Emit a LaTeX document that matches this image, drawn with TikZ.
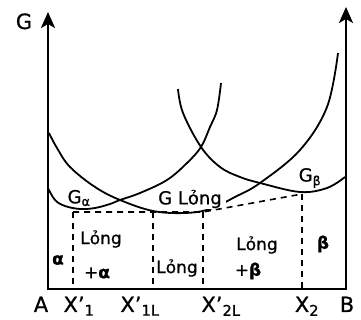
\documentclass[tikz,border=0pt]{standalone}
\usepackage{fontspec}
\setmainfont{DejaVu Sans}[FakeBold=0.8]
\usetikzlibrary{arrows.meta}

\begin{document}
\begin{tikzpicture}[x=1pt,y=1pt,
  axis/.style={line width=2.4pt},
  curve/.style={line width=1.8pt},
  tangent/.style={line width=1.6pt,dash pattern=on 6pt off 5pt},
  lbl/.style={font=\fontsize{17}{17}\selectfont,inner sep=1pt},
  glbl/.style={font=\fontsize{18}{18}\selectfont,inner sep=1pt},
  tick/.style={font=\fontsize{21}{21}\selectfont,inner sep=0pt,anchor=base}]
  \useasboundingbox (-48,-31) rectangle (313,289);
  % axes
  \draw[axis,{Stealth[length=16pt,width=14pt,inset=4pt]}-{Stealth[length=16pt,width=14pt,inset=4pt]}]
    (0,277) -- (0,0) -- (298,0) -- (298,282);
  \node[tick] (G) at (-24,260) {G};
  % free energy curves
  \draw[curve] plot[smooth,tension=0.6] coordinates {(0,101) (7,89) (17,83) (32,80)
    (47,81) (62,85) (72,89) (92,96) (119,109) (139,126) (153,142) (162,162)
    (169,179) (173,206)};
  \draw[curve] plot[smooth,tension=0.6] coordinates {(1,156) (9,141) (22,122) (47,102)
    (72,89) (105,78) (137,76) (162,80) (187,92) (212,106) (252,139) (279,182)
    (290,236)};
  \draw[curve] plot[smooth,tension=0.6] coordinates {(130,200) (135,176) (153,142)
    (172,122) (192,112) (212,106) (252,97) (279,101) (297,112)};
  \node[glbl,fill=white,inner xsep=4pt] (Gl) at (142,90) {G Lỏng};
  % common tangents
  \coordinate (t1) at (25,77);
  \coordinate (t2) at (105,77);
  \coordinate (t3) at (155,77);
  \coordinate (t4) at (254,95);
  \draw[tangent] (t1) -- (t3) -- (t4);
  \foreach \p in {t1,t2,t3,t4}
    \draw[tangent] (\p) -- (\p |- 0,0);
  % labels
  \node[glbl] (Ga) at (31,91) {G\textsubscript{α}};
  \node[glbl] (Gb) at (262,111) {G\textsubscript{β}};
  \node[lbl] (a) at (10,29) {\textbf{α}};
  \node[lbl] (La) at (53,50) {Lỏng};
  \node[lbl] (pa) at (49,16) {+\textbf{α}};
  \node[lbl] (L) at (129,21) {Lỏng};
  \node[lbl] (Lb) at (209,44) {Lỏng};
  \node[lbl] (pb) at (200,18) {+\textbf{β}};
  \node[lbl] (b) at (275,45) {\textbf{β}};
  % composition axis
  \node[tick] (A) at (-7,-23) {A};
  \node[tick] (x1) at (31,-23) {X’\textsubscript{1}};
  \node[tick] (x1L) at (92,-23) {X’\textsubscript{1L}};
  \node[tick] (x2L) at (173,-23) {X’\textsubscript{2L}};
  \node[tick] (x2) at (259,-23) {X\textsubscript{2}};
  \node[tick] (B) at (299,-23) {B};
\end{tikzpicture}
\end{document}
